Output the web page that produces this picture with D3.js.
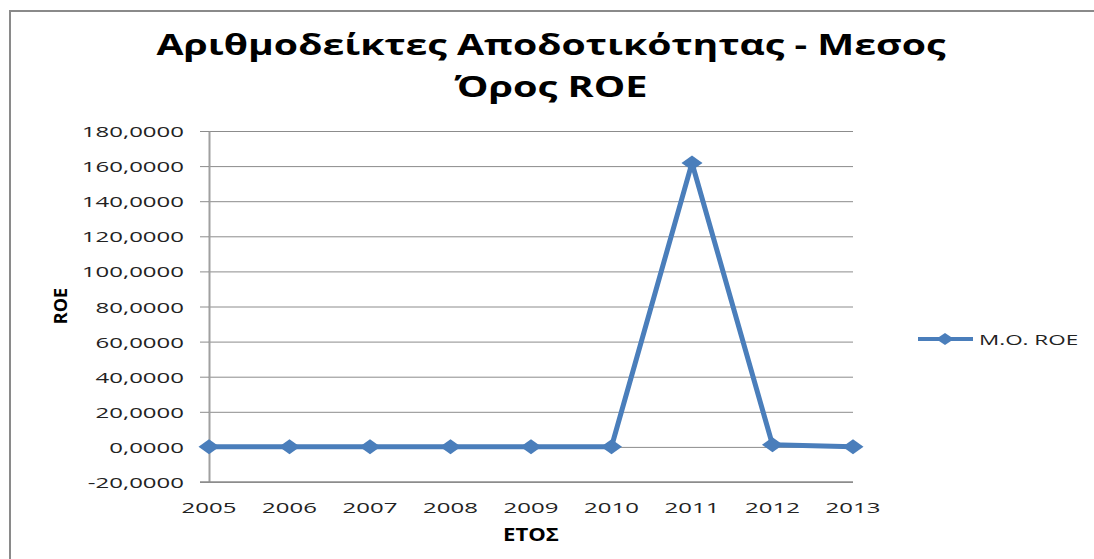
<!DOCTYPE html>
<html>
<head>
<meta charset="utf-8">
<script src="https://cdn.jsdelivr.net/npm/d3@7"></script>
<style>
  html, body { margin: 0; padding: 0; background: #fff; }
  svg { display: block; }
</style>
</head>
<body>
<svg id="chart" width="1094" height="559"></svg>
<script>
// chart data
const years = ["2005", "2006", "2007", "2008", "2009", "2010", "2011", "2012", "2013"];
const roeValues = [0.1, 0.1, 0.1, 0.1, 0.1, 0.1, 161.8, 1.2, 0.1];
const yTicks = [-20, 0, 20, 40, 60, 80, 100, 120, 140, 160, 180];
const titleLines = ["Αριθμοδείκτες Αποδοτικότητας - Μεσος", "Όρος ROE"];
const seriesName = "M.O. ROE";
const xTitle = "ΕΤΟΣ";
const yTitle = "ROE";

const svg = d3.select("#chart");
const FONT = "'Open Sans', 'DejaVu Sans', sans-serif";
const LINE_COLOR = "#4a7ebb";
const GRID_COLOR = "#8c8c8c";
const TEXT_SX = 1.6; // the reference text is stretched horizontally

const plot = { left: 209, right: 853, top: 131, bottom: 482 };

const x = d3.scalePoint().domain(years).range([plot.left, plot.right]).padding(0);
const y = d3.scaleLinear().domain([-20, 180]).range([plot.bottom, plot.top]);

// outer border (cropped on the right and bottom)
svg.append("rect")
  .attr("x", 10).attr("y", 11)
  .attr("width", 1200).attr("height", 700)
  .attr("fill", "none")
  .attr("stroke", "#8a8a8a")
  .attr("stroke-width", 2);

// helper: text stretched along x
function stretched(px, py, str, opts) {
  const g = svg.append("g")
    .attr("transform", `translate(${px},${py}) scale(${opts.sx || TEXT_SX},1)`);
  return g.append("text")
    .attr("text-anchor", opts.anchor || "start")
    .attr("font-family", FONT)
    .attr("font-size", opts.size || 15)
    .attr("font-weight", opts.weight || "normal")
    .attr("fill", opts.fill || "#222")
    .text(str);
}

// title
const titleBase = [55, 97];
const titleWidth = [789, 193];
titleLines.forEach((t, i) => {
  svg.append("text")
    .attr("x", 551).attr("y", titleBase[i])
    .attr("text-anchor", "middle")
    .attr("font-family", FONT)
    .attr("font-weight", "bold")
    .attr("font-size", 29)
    .attr("fill", "#000")
    .attr("textLength", titleWidth[i])
    .attr("lengthAdjust", "spacingAndGlyphs")
    .text(t);
});

// horizontal grid lines
svg.append("g")
  .attr("transform", `translate(${plot.left},0)`)
  .call(d3.axisLeft(y).tickValues(yTicks).tickSize(-(plot.right - plot.left)).tickFormat(() => ""))
  .call(g => g.select(".domain").remove())
  .call(g => g.selectAll("line").attr("stroke", GRID_COLOR).attr("stroke-width", 1));

// y axis: tick marks + vertical line
const yAxis = svg.append("g")
  .attr("transform", `translate(${plot.left},0)`)
  .call(d3.axisLeft(y).tickValues(yTicks).tickSize(9).tickSizeOuter(0).tickFormat(() => ""));
yAxis.select(".domain").attr("stroke", "#a0a0a0").attr("stroke-width", 2);
yAxis.selectAll(".tick line").attr("stroke", GRID_COLOR);

const fmt = v => d3.format(".4f")(v).replace(".", ",").replace("−", "-");
yTicks.forEach(v => {
  stretched(184, y(v) + 6, fmt(v), { anchor: "end", size: 15 });
});

// x axis line
svg.append("line")
  .attr("x1", plot.left - 9).attr("x2", plot.right)
  .attr("y1", plot.bottom).attr("y2", plot.bottom)
  .attr("stroke", GRID_COLOR).attr("stroke-width", 1.5);

years.forEach(yr => {
  stretched(x(yr), 513, yr, { anchor: "middle", size: 15 });
});

// axis titles
stretched(531, 541, xTitle, { anchor: "middle", size: 17, weight: "bold", sx: 1.3, fill: "#000" });
svg.append("text")
  .attr("transform", `translate(67,306) rotate(-90)`)
  .attr("text-anchor", "middle")
  .attr("font-family", FONT)
  .attr("font-size", 18)
  .attr("font-weight", "bold")
  .attr("fill", "#000")
  .text(yTitle);

// series line
const line = d3.line()
  .x((d, i) => x(years[i]))
  .y(d => y(d));

svg.append("path")
  .datum(roeValues)
  .attr("fill", "none")
  .attr("stroke", LINE_COLOR)
  .attr("stroke-width", 5)
  .attr("stroke-linejoin", "round")
  .attr("d", line);

const diamond = (hw, hh) => `M0,${-hh}L${hw},0L0,${hh}L${-hw},0Z`;

svg.append("g").selectAll("path")
  .data(roeValues)
  .join("path")
  .attr("transform", (d, i) => `translate(${x(years[i])},${y(d)})`)
  .attr("d", diamond(10.5, 7.5))
  .attr("fill", LINE_COLOR);

// legend
const legend = svg.append("g").attr("transform", "translate(918,339)");
legend.append("line")
  .attr("x1", 0).attr("x2", 55)
  .attr("stroke", LINE_COLOR).attr("stroke-width", 4);
legend.append("path")
  .attr("transform", "translate(27,0)")
  .attr("d", diamond(9, 6))
  .attr("fill", LINE_COLOR);
stretched(979, 345, seriesName, { size: 15, sx: 1.5 });
</script>
</body>
</html>
